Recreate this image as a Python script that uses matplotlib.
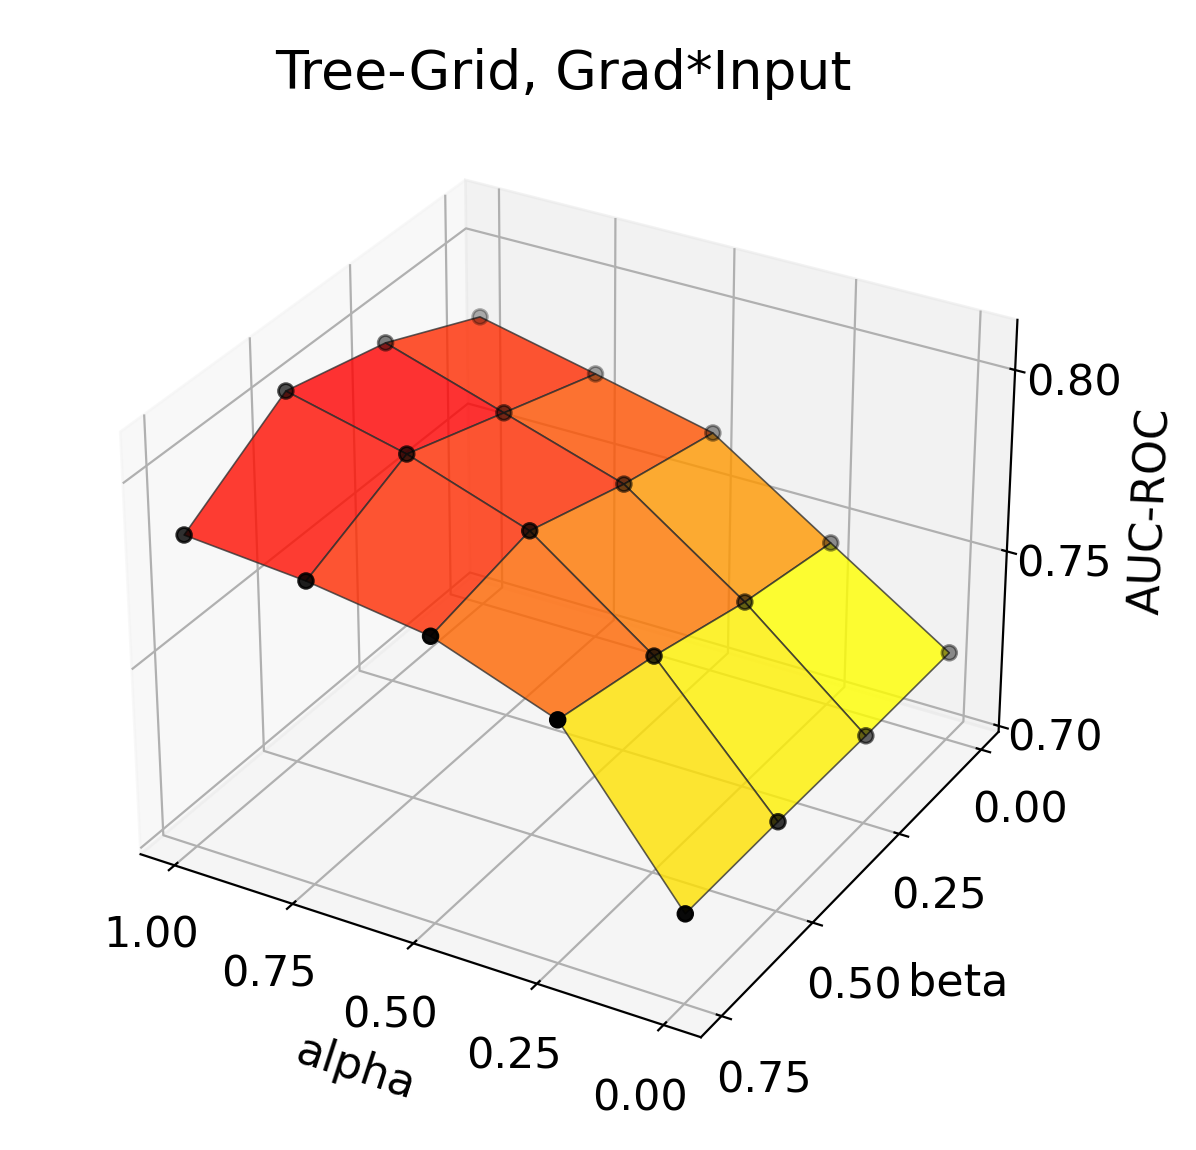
import numpy as np
import matplotlib
matplotlib.use('Agg')
import matplotlib.pyplot as plt

alpha_vals = [0.0, 0.25, 0.5, 0.75, 1.0]
beta_vals = [0.0, 0.25, 0.5, 0.75]
# one row per beta, columns follow alpha_vals
auc_beta_000 = [0.7233, 0.7449, 0.7667, 0.7744, 0.7818]
auc_beta_025 = [0.7231, 0.7505, 0.7736, 0.7841, 0.7945]
auc_beta_050 = [0.7233, 0.7584, 0.7825, 0.7938, 0.8017]
auc_beta_075 = [0.7231, 0.7646, 0.7767, 0.7816, 0.7843]

x, y = np.meshgrid(alpha_vals, beta_vals)
z = np.array([auc_beta_000, auc_beta_025, auc_beta_050, auc_beta_075])

fig = plt.figure(figsize=(5.98, 5.75), dpi=200)
ax = fig.add_subplot(111, projection='3d')
ax.set_position([0.0546, 0.043, 0.834, 0.868])
ax.plot_surface(x, y, z, cmap='autumn_r', alpha=0.8, edgecolor='#333333', linewidth=0.6)
ax.scatter(x, y, z, color='black', s=28)

ax.set_xticks([0, 0.25, 0.5, 0.75, 1.0])
ax.set_yticks([0, 0.25, 0.5, 0.75])
ax.set_zticks([0.70, 0.75, 0.80])
ax.set_xticklabels(['0.00', '0.25', '0.50', '0.75', '1.00'])
ax.set_yticklabels(['0.00', '0.25', '0.50', '0.75'])
ax.set_zticklabels(['0.70', '0.75', '0.80'])
ax.tick_params(labelsize=15.5)
ax.tick_params(axis='x', pad=5)
ax.tick_params(axis='y', pad=5.5)
ax.tick_params(axis='z', pad=4.8)
ax.set_zlim(0.6983, 0.8135)
ax.invert_xaxis()
ax.invert_yaxis()

ax.set_xlabel('alpha', fontsize=16, labelpad=11)
ax.set_ylabel('beta', fontsize=16, labelpad=13)
ax.set_zlabel('AUC-ROC', fontsize=16, labelpad=11)
fig.text(0.471, 0.9355, 'Tree-Grid, Grad*Input', fontsize=19.3, ha='center', va='center')
fig.savefig('out.png')
